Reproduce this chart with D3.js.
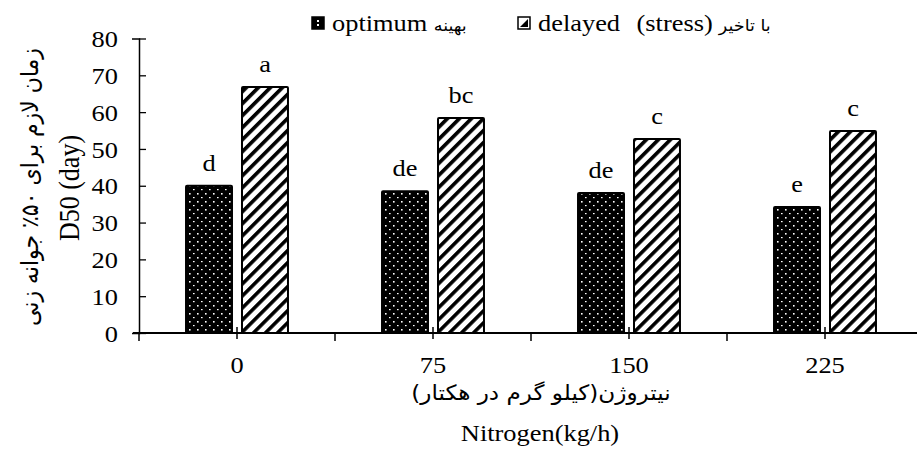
<!DOCTYPE html>
<meta charset="utf-8">
<style>
body { margin: 0; background: #fff; }
svg text { font-family: "Liberation Serif", "Times New Roman", serif; fill: #000; }
.fa { font-family: "DejaVu Sans", "Noto Sans", sans-serif; }
</style>
<svg width="917" height="450"></svg>
<script src="https://cdn.jsdelivr.net/npm/d3@7"></script>
<script>

var categories = ["0", "75", "150", "225"];
var series = ["optimum", "delayed"];
var optimumValues = [40, 38.5, 38, 34.2];
var delayedValues = [66.8, 58.4, 52.7, 54.9];
var optimumLetters = ["d", "de", "de", "e"];
var delayedLetters = ["a", "bc", "c", "c"];
var yTicks = [0, 10, 20, 30, 40, 50, 60, 70, 80];

var sx = 1.1; // the original figure is a little wider than tall
function at(x, y, rot) {
  return "translate(" + x + "," + y + ") scale(" + sx + ",1)" + (rot ? " rotate(" + rot + ")" : "");
}

var svg = d3.select("svg");

var x = d3.scaleBand().domain(categories).range([139, 923]).padding(0);
var x1 = d3.scaleBand().domain(series).range([0, x.bandwidth()])
    .paddingInner(0.179).paddingOuter(0.84);
var y = d3.scaleLinear().domain([0, 80]).range([333, 38.5]);

// patterns
var defs = svg.append("defs");
var dots = defs.append("pattern")
    .attr("id", "dots")
    .attr("patternUnits", "userSpaceOnUse")
    .attr("width", 8).attr("height", 8);
dots.append("rect").attr("width", 8).attr("height", 8).attr("fill", "#000");
dots.append("rect").attr("x", 2).attr("y", 1).attr("width", 1.6).attr("height", 1.6).attr("fill", "#fff");
dots.append("rect").attr("x", 6).attr("y", 5).attr("width", 1.6).attr("height", 1.2).attr("fill", "#fff");

var stripes = defs.append("pattern")
    .attr("id", "stripes")
    .attr("patternUnits", "userSpaceOnUse")
    .attr("width", 8.5).attr("height", 8.5)
    .attr("patternTransform", "rotate(45)");
stripes.append("rect").attr("width", 8.5).attr("height", 8.5).attr("fill", "#fff");
stripes.append("rect").attr("width", 3.6).attr("height", 8.5).attr("fill", "#000");

var fills = { optimum: "url(#dots)", delayed: "url(#stripes)" };

var rows = categories.map(function(c, i) {
  return [
    { cat: c, key: "optimum", value: optimumValues[i], letter: optimumLetters[i] },
    { cat: c, key: "delayed", value: delayedValues[i], letter: delayedLetters[i] }
  ];
});

var groups = svg.selectAll("g.group")
  .data(rows)
  .enter().append("g")
    .attr("class", "group")
    .attr("transform", function(d) { return "translate(" + x(d[0].cat) + ",0)"; });

groups.selectAll("rect")
  .data(function(d) { return d; })
  .enter().append("rect")
    .attr("x", function(d) { return x1(d.key); })
    .attr("y", function(d) { return y(d.value); })
    .attr("width", x1.bandwidth())
    .attr("height", function(d) { return y(0) - y(d.value); })
    .attr("fill", function(d) { return fills[d.key]; })
    .attr("stroke", "#000")
    .attr("stroke-width", 2)
    .attr("rx", 1);

groups.selectAll("text")
  .data(function(d) { return d; })
  .enter().append("text")
    .attr("text-anchor", "middle")
    .attr("font-size", 24)
    .attr("transform", function(d) { return at(x1(d.key) + x1.bandwidth() / 2, y(d.value) - 15); })
    .text(function(d) { return d.letter; });

// y axis
var yAxis = svg.append("g")
    .attr("transform", "translate(139,0)")
    .call(d3.axisLeft(y).tickValues(yTicks).tickSize(7));
yAxis.select(".domain").attr("stroke", "#000").attr("stroke-width", 1.5);
yAxis.selectAll(".tick line").attr("x2", 7).attr("stroke-width", 1.3);
yAxis.selectAll(".tick text")
    .attr("x", null).attr("dy", "0.34em")
    .attr("font-size", 24)
    .attr("transform", at(-21, 0));

// x axis
var xg = svg.append("g");
xg.append("line")
    .attr("x1", 133).attr("x2", 917)
    .attr("y1", y(0)).attr("y2", y(0))
    .attr("stroke", "#000").attr("stroke-width", 2);
xg.selectAll("line.bound")
  .data(categories)
  .enter().append("line")
    .attr("x1", function(d) { return x(d); }).attr("x2", function(d) { return x(d); })
    .attr("y1", y(0)).attr("y2", y(0) + 8)
    .attr("stroke", "#000").attr("stroke-width", 1.5);
xg.selectAll("line.mid")
  .data(categories)
  .enter().append("line")
    .attr("x1", function(d) { return x(d) + x.bandwidth() / 2; })
    .attr("x2", function(d) { return x(d) + x.bandwidth() / 2; })
    .attr("y1", y(0) - 6).attr("y2", y(0) + 6)
    .attr("stroke", "#000").attr("stroke-width", 1.5);
xg.selectAll("text")
  .data(categories)
  .enter().append("text")
    .attr("transform", function(d) { return at(x(d) + x.bandwidth() / 2, 373); })
    .attr("text-anchor", "middle")
    .attr("font-size", 24)
    .text(function(d) { return d; });

// axis titles
svg.append("text")
    .attr("class", "fa")
    .attr("transform", at(541, 400))
    .attr("text-anchor", "middle")
    .attr("font-size", 21)
    .attr("direction", "rtl")
    .text("نیتروژن(کیلو گرم در هکتار)");
svg.append("text")
    .attr("transform", at(540, 441))
    .attr("text-anchor", "middle")
    .attr("font-size", 24)
    .text("Nitrogen(kg/h)");

svg.append("text")
    .attr("transform", at(79, 188, -90))
    .attr("text-anchor", "middle")
    .attr("font-size", 26)
    .text("D50 (day)");
svg.append("text")
    .attr("class", "fa")
    .attr("transform", at(38, 187, -90))
    .attr("text-anchor", "middle")
    .attr("font-size", 22)
    .attr("direction", "rtl")
    .text("زمان لازم برای ۵۰٪ جوانه زنی");

// legend
var legend = [
  { key: "optimum", x: 312, en: "optimum", fa: "بهینه" },
  { key: "delayed", x: 518, en: "delayed (stress)", fa: "با تاخیر" }
];
var lg = svg.selectAll("g.legend")
  .data(legend)
  .enter().append("g")
    .attr("class", "legend")
    .attr("transform", function(d) { return "translate(" + d.x + ",17)"; });
lg.append("rect")
    .attr("width", 12).attr("height", 12)
    .attr("fill", function(d) { return d.key === "optimum" ? "#000" : "#fff"; })
    .attr("stroke", "#000").attr("stroke-width", 1.5);
lg.filter(function(d) { return d.key === "optimum"; }).append("rect")
    .attr("x", 5).attr("y", 3).attr("width", 2).attr("height", 2).attr("fill", "#fff");
lg.filter(function(d) { return d.key === "optimum"; }).append("rect")
    .attr("x", 5).attr("y", 7).attr("width", 2).attr("height", 2).attr("fill", "#fff");
lg.filter(function(d) { return d.key === "delayed"; }).append("path")
    .attr("d", "M2,10 L10,10 L10,2 Z").attr("fill", "#000");
lg.append("text")
    .attr("transform", at(20, 14))
    .attr("font-size", 24)
    .attr("word-spacing", 9)
    .text(function(d) { return d.en; })
  .each(function(d) {
    var w = this.getBoundingClientRect().width;
    d3.select(this.parentNode).append("text")
        .attr("class", "fa")
        .attr("transform", at(20 + w + 6, 14))
        .attr("font-size", 16)
        .attr("direction", "rtl")
        .attr("text-anchor", "end")
        .text(d.fa);
  });

</script>
